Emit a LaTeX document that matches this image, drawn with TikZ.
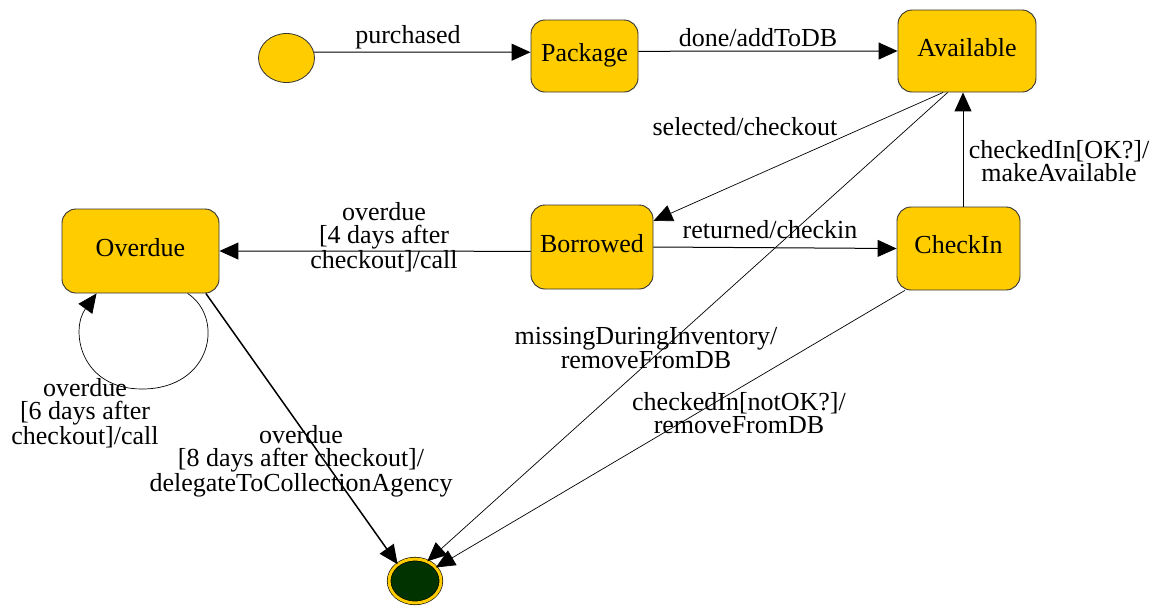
\documentclass[tikz,border=0pt]{standalone}
\usepackage{fontspec}
\setmainfont{Liberation Serif}
\usetikzlibrary{shapes.geometric,arrows.meta}
\definecolor{stateyellow}{HTML}{FFCC00}
\definecolor{finalgreen}{HTML}{003300}
\begin{document}
\begin{tikzpicture}[x=1pt,y=-1pt,
  every node/.style={font=\fontsize{26pt}{23.5pt}\selectfont},
  statebox/.style={draw=black!80,line width=0.9pt,fill=stateyellow,rounded corners=14pt,
    inner sep=0pt,text height=18pt,text depth=8pt},
  lbl/.style={align=center,inner sep=0pt},
  trans/.style={line width=1pt,-{Triangle[length=19pt,width=17pt]}},
  thintrans/.style={line width=0.7pt,-{Triangle[length=19pt,width=17pt]}}]
\useasboundingbox (0,0) rectangle (1154,606);
% states
\node[ellipse,draw=black!80,line width=0.8pt,fill=stateyellow,minimum width=56pt,minimum height=49pt,inner sep=0pt] (init) at (286.5,58) {};
\node[statebox,minimum width=107pt,minimum height=72pt] (package) at (584.5,56) {Package};
\node[statebox,minimum width=138pt,minimum height=82pt] (avail) at (967,51) {Available};
\node[statebox,minimum width=122pt,minimum height=84pt] (borrowed) at (592,247) {Borrowed};
\node[statebox,minimum width=123pt,minimum height=83pt] (checkin) at (958.5,248.5) {CheckIn};
\node[statebox,minimum width=157pt,minimum height=84pt] (overdue) at (140.5,251) {Overdue};
\node[ellipse,draw=black,line width=0.6pt,double=stateyellow,double distance=3pt,fill=finalgreen,minimum width=52pt,minimum height=44pt,inner sep=0pt] (final) at (415,581) {};
% transitions
\draw[trans] (init.12) -- (package.176);
\draw[trans] (package.5) -- (avail.west);
\draw[thintrans] (avail.-120) -- (borrowed.23.5);
\draw[thintrans] (avail.-115) -- (final.58);
\draw[trans] ([xshift=4.5pt]checkin.north) -- ([xshift=-4pt]avail.south);
\draw[trans] (borrowed.east) -- (checkin.west);
\draw[trans] (borrowed.184) -- (overdue.east);
\draw[thintrans] (checkin.-142) -- (final.33);
\draw[line width=1.5pt,-{Triangle[length=19pt,width=17pt]}] (overdue.-33) -- (final.136);
\coordinate (loopbottom) at (142,389);
\draw[thintrans] (overdue.-42) .. controls (225,318) and (212,389) .. (loopbottom)
  .. controls (80,389) and (70,330) .. (overdue.-136);
% labels
\node[lbl] (l1) at (408,37) {purchased};
\node[lbl] (l2) at (758,38) {done/addToDB};
\node[lbl] (l3) at (745,127) {selected/checkout};
\node[lbl] (l4) at (1059,161) {checkedIn[OK?]/\\makeAvailable};
\node[lbl] (l5) at (770,230) {returned/checkin};
\node[lbl] (l6) at (384,237) {overdue\\{[4 days after}\\checkout]/call};
\node[lbl] (l7) at (646,348) {missingDuringInventory/\\removeFromDB};
\node[lbl] (l8) at (739,413) {checkedIn[notOK?]/\\removeFromDB};
\node[lbl] (l9) at (85,413) {overdue\\{[6 days after}\\checkout]/call};
\node[lbl] (l10) at (301,461) {overdue\\{[8 days after checkout]/}\\delegateToCollectionAgency};
\end{tikzpicture}
\end{document}
